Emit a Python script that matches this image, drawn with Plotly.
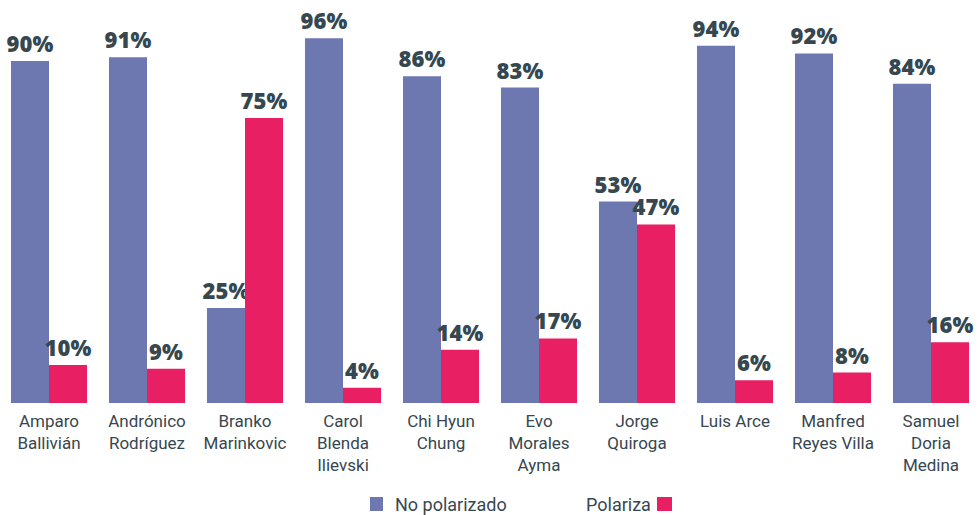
import plotly.graph_objects as go

categories = ["Amparo<br>Ballivián", "Andrónico<br>Rodríguez", "Branko<br>Marinkovic",
              "Carol<br>Blenda<br>Ilievski", "Chi Hyun<br>Chung", "Evo<br>Morales<br>Ayma",
              "Jorge<br>Quiroga", "Luis Arce", "Manfred<br>Reyes Villa", "Samuel<br>Doria<br>Medina"]
no_polarizado = [90, 91, 25, 96, 86, 83, 53, 94, 92, 84]
polariza = [10, 9, 75, 4, 14, 17, 47, 6, 8, 16]

BLUE = "#6d77b0"
PINK = "#e91f63"
TXT = "#37474f"
label_font = dict(family="Open Sans", size=22, color=TXT, weight=800)

fig = go.Figure()
fig.add_trace(go.Bar(x=categories, y=no_polarizado, name="No polarizado", marker_color=BLUE,
                     marker_line_width=0,
                     text=[f"{v}%" for v in no_polarizado], textposition="outside",
                     textfont=label_font, cliponaxis=False))
fig.add_trace(go.Bar(x=categories, y=polariza, name="Polariza", marker_color=PINK,
                     marker_line_width=0,
                     text=[f"{v}%" for v in polariza], textposition="outside",
                     textfont=label_font, cliponaxis=False))

fig.update_layout(
    width=980, height=515,
    barmode="group", bargap=0.224, bargroupgap=0,
    margin=dict(l=0, r=0, t=23, b=112),
    plot_bgcolor="white", paper_bgcolor="white",
    showlegend=False,
    uniformtext=dict(mode="show", minsize=21),
    xaxis=dict(showgrid=False, showline=False, ticks="", ticklabelstandoff=6,
               tickfont=dict(family="Roboto", size=17, color=TXT)),
    yaxis=dict(range=[0, 100], visible=False),
    font=dict(family="Roboto", color=TXT),
)

# custom legend
fig.add_shape(type="rect", xref="paper", yref="paper", x0=370/980, x1=383/980,
              y0=-(497-403)/380, y1=-(511-403)/380, fillcolor=BLUE, line_width=0)
fig.add_annotation(text="No polarizado", xref="paper", yref="paper", x=393/980, y=-(504-403)/380,
                   xanchor="left", yanchor="middle", showarrow=False,
                   font=dict(family="Roboto", size=18, color=TXT))
fig.add_annotation(text="Polariza", xref="paper", yref="paper", x=653/980, y=-(504-403)/380,
                   xanchor="right", yanchor="middle", showarrow=False,
                   font=dict(family="Roboto", size=18, color=TXT))
fig.add_shape(type="rect", xref="paper", yref="paper", x0=657/980, x1=672/980,
              y0=-(497-403)/380, y1=-(511-403)/380, fillcolor=PINK, line_width=0)

fig.write_html("out.html", config={"displayModeBar": False},
               post_script="document.body.style.margin='0';document.body.style.overflow='hidden';")
